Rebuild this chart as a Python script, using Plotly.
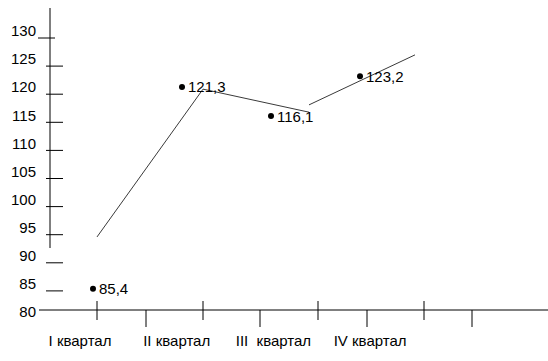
import plotly.graph_objects as go

# ---------------- data ----------------
quarters = ["I квартал", "II квартал", "III  квартал", "IV квартал"]
values = [85.4, 121.3, 116.1, 123.2]
value_labels = ["85,4", "121,3", "116,1", "123,2"]
trend_first = [94.6, 120.9, 116.8]      # first broken line piece (quarters I-III)
trend_second = [118.1, 127.0]           # second piece (quarters III-IV)
y_ticks = [80, 85, 90, 95, 100, 105, 110, 115, 120, 125, 130]

# ---------------- layout constants ----------------
W, H = 548, 361
LEFT, TOP, BOTTOM = 50, 8, 319          # plot area in pixels
PLOT_W = W - LEFT
PLOT_H = BOTTOM - TOP
PX_PER_UNIT = 5.62
Y_MIN = 80
Y_MAX = Y_MIN + PLOT_H / PX_PER_UNIT
X_UNIT = 100.0                          # pixels per x unit
X_MAX = PLOT_W / X_UNIT

FONT = "Liberation Sans, Arial, sans-serif"
FS = 15


def px_x(px):
    return (px - LEFT) / PLOT_W


def px_y(py):
    return (BOTTOM - py) / PLOT_H


def val_y(v):
    return (v - Y_MIN) / (Y_MAX - Y_MIN)


label_x = [0.30 + 0.967 * i for i in range(len(quarters))]
point_x = [0.43 + 0.89 * i for i in range(len(values))]
line_x = [0.47 + 1.06 * i for i in range(4)]

fig = go.Figure()

fig.add_trace(go.Scatter(
    x=line_x[0:3] + [None] + line_x[2:4],
    y=trend_first + [None] + trend_second,
    mode="lines",
    line=dict(color="#3a3a3a", width=1),
    hoverinfo="skip",
    showlegend=False,
))

fig.add_trace(go.Scatter(
    x=point_x,
    y=values,
    mode="markers",
    marker=dict(color="black", size=6),
    hoverinfo="skip",
    showlegend=False,
))

annotations = [
    dict(x=px, y=v, text=t, xref="x", yref="y", showarrow=False,
         xanchor="left", yanchor="middle", xshift=4,
         font=dict(family=FONT, size=FS, color="black"))
    for px, v, t in zip(point_x, values, value_labels)
]

shapes = []
line_style = dict(color="black", width=1)
# vertical (broken) y axis
shapes.append(dict(type="line", xref="paper", yref="paper",
                   x0=0, x1=0, y0=px_y(248), y1=1, line=line_style))
# y tick marks (drawn slightly below their labels)
for v in y_ticks[1:]:
    if v == 130:
        a, b = -12, 5
    else:
        a, b = -4, 13
    shapes.append(dict(type="line", xref="paper", yref="paper",
                       x0=px_x(LEFT + a), x1=px_x(LEFT + b),
                       y0=val_y(v), y1=val_y(v), line=line_style))
# horizontal axis line
shapes.append(dict(type="line", xref="paper", yref="paper",
                   x0=px_x(39), x1=1, y0=px_y(310), y1=px_y(310), line=line_style))
# x tick marks: crossing and below
for px in [97, 203, 318, 424]:
    shapes.append(dict(type="line", xref="paper", yref="paper",
                       x0=px_x(px), x1=px_x(px), y0=px_y(301), y1=px_y(320),
                       line=line_style))
for px in [146, 260, 367, 472]:
    shapes.append(dict(type="line", xref="paper", yref="paper",
                       x0=px_x(px), x1=px_x(px), y0=px_y(310), y1=px_y(327),
                       line=line_style))

fig.update_layout(
    width=W, height=H,
    margin=dict(l=LEFT, r=0, t=TOP, b=H - BOTTOM),
    paper_bgcolor="white",
    plot_bgcolor="white",
    font=dict(family=FONT, size=FS, color="black"),
    shapes=shapes,
    annotations=annotations,
    xaxis=dict(
        range=[0, X_MAX], showgrid=False, zeroline=False, showline=False,
        tickmode="array", tickvals=label_x, ticktext=quarters,
        ticks="", ticklabelstandoff=11,
        tickfont=dict(family=FONT, size=FS, color="black"),
        fixedrange=True,
    ),
    yaxis=dict(
        range=[Y_MIN, Y_MAX], showgrid=False, zeroline=False, showline=False,
        tickmode="array", tickvals=y_ticks, ticktext=[str(t) for t in y_ticks],
        ticks="", ticklabelstandoff=13, ticklabelshift=-7,
        tickfont=dict(family=FONT, size=FS, color="black"),
        fixedrange=True,
    ),
)

fig.write_html("out.html", config={"displayModeBar": False},
               post_script="document.body.style.margin='0px';")
